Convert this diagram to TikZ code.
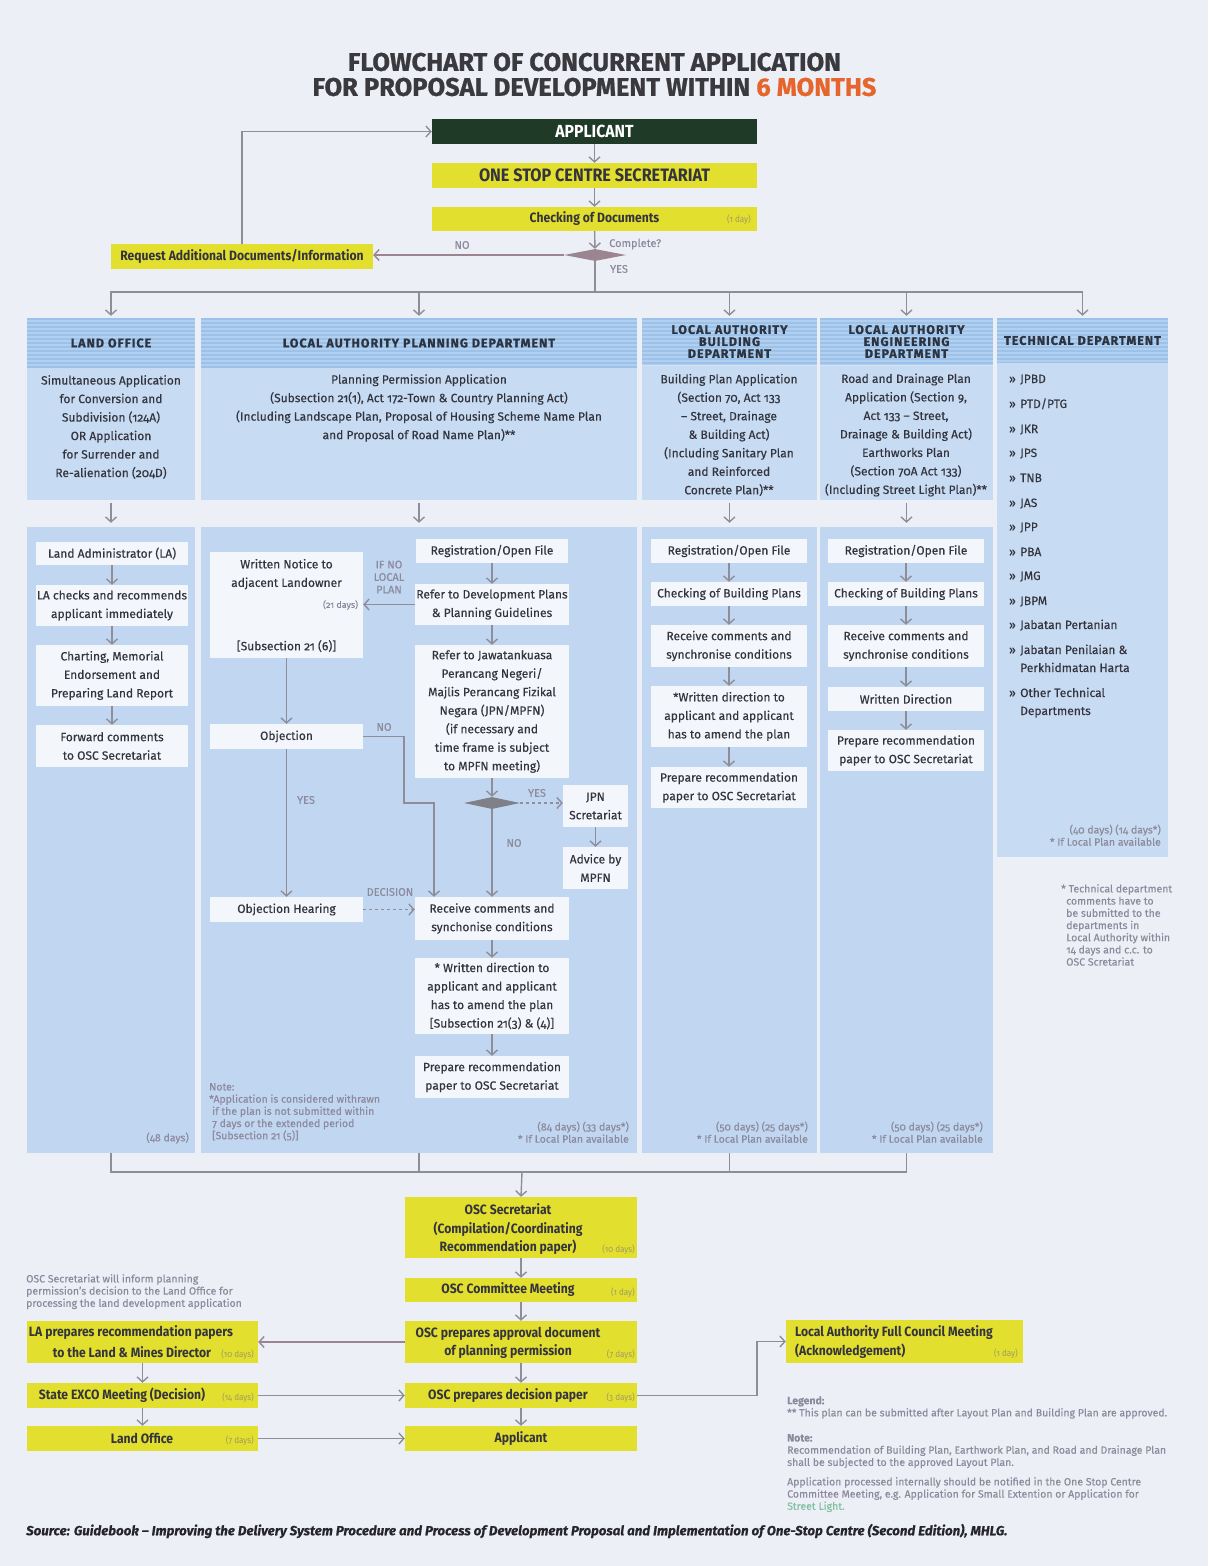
\documentclass[tikz,border=0pt]{standalone}
\usepackage{fontspec}
\setmainfont[Numbers=OldStyle,FakeBold=0.3]{Fira Sans}
\newfontfamily\condfont[FakeStretch=0.9,Numbers=OldStyle]{Fira Sans}
\newfontfamily\titlefont[FakeBold=0.8]{Fira Sans}
\newfontfamily\headfont[LetterSpace=8,FakeBold=0.8]{Fira Sans}
\usetikzlibrary{arrows.meta,shapes.geometric,positioning}

\definecolor{pagec}{HTML}{EDEFF7}
\definecolor{linegrey}{HTML}{8E8E98}
\definecolor{mauvec}{HTML}{9A8590}
\definecolor{diagrey}{HTML}{808088}
\definecolor{yellowc}{HTML}{E3DF2E}
\definecolor{greenc}{HTML}{1F3A27}
\definecolor{headc}{HTML}{9CC2EA}
\definecolor{bodyc}{HTML}{C7DCF2}
\definecolor{lowc}{HTML}{C1D7F1}
\definecolor{whitec}{HTML}{F3F6FB}
\definecolor{textc}{HTML}{34343E}
\definecolor{headtext}{HTML}{2C3442}
\definecolor{notec}{HTML}{8C8A9C}
\definecolor{daysc}{HTML}{9E9C62}
\definecolor{titlec}{HTML}{3A3A3E}
\definecolor{orangec}{HTML}{E5652C}
\definecolor{greenl}{HTML}{7FC0A0}
\definecolor{srcc}{HTML}{25252A}

\begin{document}
\begin{tikzpicture}[x=1pt, y=-1pt,
		arr/.style={draw=linegrey, line width=1.4pt, -{Straight Barb[length=5pt,width=11pt]}},
		lin/.style={draw=linegrey, line width=1.4pt},
		panel/.style={inner sep=0pt, fill=#1},
		hd/.style={inner sep=0pt, fill=headc, text=headtext, align=center, font=\headfont\bfseries\fontsize{12.5}{12}\selectfont,
			path picture={\foreach \k in {3,7,...,47} \draw[white, opacity=0.22, line width=1.2pt] ([yshift=-\k pt]path picture bounding box.north west) -- ([yshift=-\k pt]path picture bounding box.north east);}},
		body/.style={inner sep=0pt, text=textc, align=center, font=\fontsize{12}{18.5}\selectfont},
		wbox/.style={inner sep=0pt, fill=whitec, text=textc, align=center, font=\fontsize{12}{18.5}\selectfont},
		ybox/.style={inner sep=0pt, fill=yellowc, text=textc, align=center, font=\condfont\bfseries\fontsize{13.5}{18.5}\selectfont},
		ytxt/.style={inner sep=0pt, text=textc, align=center, font=\condfont\bfseries\fontsize{13.5}{18.5}\selectfont},
		note/.style={inner sep=0pt, text=notec, font=\fontsize{10.5}{12.2}\selectfont},
		days/.style={inner sep=0pt, text=daysc, font=\condfont\fontsize{9}{10}\selectfont},
		lbl/.style={inner sep=0pt, text=notec, font=\fontsize{11}{12.5}\selectfont},
		item/.style={inner sep=0pt, text=textc, font=\fontsize{12}{18}\selectfont}
	]
	\fill[pagec] (0,0) rectangle (1208,1566);
	\useasboundingbox (0,0) rectangle (1208,1566);

	\node[inner sep=0pt, text=titlec, font=\titlefont\bfseries\fontsize{25.5}{27}\selectfont] (title1) at (594.5,62) {FLOWCHART OF CONCURRENT APPLICATION};
	\node[inner sep=0pt, text=titlec, font=\titlefont\bfseries\fontsize{25.5}{27}\selectfont] (title2) at (594.5,87) {FOR PROPOSAL DEVELOPMENT WITHIN \textcolor{orangec}{6 MONTHS}};

	\node[inner sep=0pt, fill=greenc, text=white, minimum width=325pt, minimum height=25pt, font=\condfont\bfseries\fontsize{17.5}{19}\selectfont] (app) at (594.5,131.5) {APPLICANT};
	\node[ybox, minimum width=325pt, minimum height=25pt, font=\condfont\bfseries\fontsize{18}{20}\selectfont] (osc) at (594.5,175.5) {ONE STOP CENTRE SECRETARIAT};
	\node[ybox, minimum width=325pt, minimum height=24pt] (chk) at (594.5,219) {Checking of Documents};
	\node[days, anchor=east] (chkD) at (751,220) {(1 day)};
	\node[diamond, aspect=5, fill=mauvec, minimum width=62pt, minimum height=12pt, inner sep=0pt] (dia) at (595,255) {};
	\node[ybox, minimum width=262pt, minimum height=25pt] (req) at (242,256.5) {Request Additional Documents/Information};
	\node[lbl] (noA) at (462,245) {NO};
	\node[lbl, anchor=west] (cmpA) at (609,244) {Complete?};
	\node[lbl] (yesA) at (619,269) {YES};

	\draw[arr] (app) -- (osc);
	\draw[arr] (osc) -- (chk);
	\draw[arr] (chk) -- (dia);
	\draw[arr, draw=mauvec] (dia.west) -- (dia.west -| req.east);
	\draw[arr] (req.north) |- (app.west);

	% columns
	\node[panel=bodyc, minimum width=168pt, minimum height=182pt] (loTop) at (111,409) {};
	\node[hd, minimum width=168pt, minimum height=50pt] (loHd) at (111,343) {LAND OFFICE};
	\node[panel=lowc, minimum width=168pt, minimum height=626pt] (loLow) at (111,840) {};
	\node[panel=bodyc, minimum width=436pt, minimum height=182pt] (plTop) at (419,409) {};
	\node[hd, minimum width=436pt, minimum height=50pt] (plHd) at (419,343) {LOCAL AUTHORITY PLANNING DEPARTMENT};
	\node[panel=lowc, minimum width=436pt, minimum height=626pt] (plLow) at (419,840) {};
	\node[panel=bodyc, minimum width=175pt, minimum height=182pt] (bdTop) at (729.5,409) {};
	\node[hd, minimum width=175pt, minimum height=47pt] (bdHd) at (729.5,341.5) {LOCAL AUTHORITY\\BUILDING\\DEPARTMENT};
	\node[panel=lowc, minimum width=175pt, minimum height=626pt] (bdLow) at (729.5,840) {};
	\node[panel=bodyc, minimum width=173pt, minimum height=182pt] (enTop) at (906.5,409) {};
	\node[hd, minimum width=173pt, minimum height=47pt] (enHd) at (906.5,341.5) {LOCAL AUTHORITY\\ENGINEERING\\DEPARTMENT};
	\node[panel=lowc, minimum width=173pt, minimum height=626pt] (enLow) at (906.5,840) {};
	\node[panel=bodyc, minimum width=171pt, minimum height=539pt] (tdTop) at (1082.5,587.5) {};
	\node[hd, minimum width=171pt, minimum height=45pt] (tdHd) at (1082.5,340.5) {TECHNICAL DEPARTMENT};

	\coordinate (busT) at (595,292);
	\draw[lin] (dia.south) -- (busT);
	\draw[arr, shorten >=2pt] (busT) -| (loHd.north);
	\draw[arr, shorten >=2pt] (busT) -| (plHd.north);
	\draw[arr, shorten >=2pt] (busT) -| (bdHd.north);
	\draw[arr, shorten >=2pt] (busT) -| (enHd.north);
	\draw[arr, shorten >=2pt] (busT) -| (tdHd.north);

	\node[body] (loTxt) at (111,427) {Simultaneous Application\\for Conversion and\\Subdivision (124A)\\OR Application\\for Surrender and\\Re-alienation (204D)};
	\node[body] (plTxt) at (419,408) {Planning Permission Application\\(Subsection 21(1), Act 172-Town \& Country Planning Act)\\(Including Landscape Plan, Proposal of Housing Scheme Name Plan\\and Proposal of Road Name Plan)**};
	\node[body] (bdTxt) at (729,435) {Building Plan Application\\(Section 70, Act 133\\– Street, Drainage\\\& Building Act)\\(Including Sanitary Plan\\and Reinforced\\Concrete Plan)**};
	\node[body] (enTxt) at (906,435) {Road and Drainage Plan\\Application (Section 9,\\Act 133 – Street,\\Drainage \& Building Act)\\Earthworks Plan\\(Section 70A Act 133)\\(Including Street Light Plan)**};

	\draw[arr, shorten <=3pt, shorten >=4pt] (loTop.south) -- (loLow.north);
	\draw[arr, shorten <=3pt, shorten >=4pt] (plTop.south) -- (plLow.north);
	\draw[arr, shorten <=3pt, shorten >=4pt] (bdTop.south) -- (bdLow.north);
	\draw[arr, shorten <=3pt, shorten >=4pt] (enTop.south) -- (enLow.north);

	% land office
	\node[wbox, minimum width=152pt, minimum height=23pt] (loLa) at (112,553.5) {Land Administrator (LA)};
	\node[wbox, minimum width=152pt, minimum height=41pt] (loChk) at (112,605.5) {LA checks and recommends\\applicant immediately};
	\node[wbox, minimum width=152pt, minimum height=61pt] (loChart) at (112,675.5) {Charting, Memorial\\Endorsement and\\Preparing Land Report};
	\node[wbox, minimum width=152pt, minimum height=42pt] (loFwd) at (112,746) {Forward comments\\to OSC Secretariat};
	\node[note, anchor=east] (loDays) at (189,1138) {(48 days)};
	\draw[arr] (loLa) -- (loChk);
	\draw[arr] (loChk) -- (loChart);
	\draw[arr] (loChart) -- (loFwd);

	% planning
	\node[wbox, minimum width=152pt, minimum height=24pt] (plReg) at (492,551) {Registration/Open File};
	\node[wbox, minimum width=154pt, minimum height=41pt] (plRef) at (492,604.5) {Refer to Development Plans\\\& Planning Guidelines};
	\node[wbox, minimum width=154pt, minimum height=133pt] (plJpn) at (492,711.5) {Refer to Jawatankuasa\\Perancang Negeri/\\Majlis Perancang Fizikal\\Negara (JPN/MPFN)\\(if necessary and\\time frame is subject\\to MPFN meeting)};
	\node[diamond, aspect=4.5, fill=diagrey, minimum width=56pt, minimum height=12pt, inner sep=0pt] (plDia) at (492,803) {};
	\node[wbox, minimum width=65pt, minimum height=42pt] (plJs) at (595.5,806) {JPN\\Scretariat};
	\node[wbox, minimum width=65pt, minimum height=42pt] (plAdv) at (595.5,868) {Advice by\\MPFN};
	\node[wbox, minimum width=154pt, minimum height=43pt] (plRcv) at (492,918.5) {Receive comments and\\synchonise conditions};
	\node[wbox, minimum width=154pt, minimum height=76pt] (plWd) at (492,996) {* Written direction to\\applicant and applicant\\has to amend the plan\\{[}Subsection 21(3) \& (4){]}};
	\node[wbox, minimum width=154pt, minimum height=42pt] (plPrep) at (492,1077) {Prepare recommendation\\paper to OSC Secretariat};
	\node[wbox, minimum width=153pt, minimum height=106pt] (plNot) at (286.5,605) {};
	\node[body, below=7pt of plNot.north] (plNotT) {Written Notice to\\adjacent Landowner};
	\node[body, above=6pt of plNot.south] (plNotS) {{[}Subsection 21 (6){]}};
	\node[note, anchor=east, font=\fontsize{9}{10}\selectfont] (plNotD) at ([xshift=-5pt]plNot.east) {(21 days)};
	\node[wbox, minimum width=153pt, minimum height=25pt] (plObj) at (286.5,736.5) {Objection};
	\node[wbox, minimum width=153pt, minimum height=25pt] (plHear) at (286.5,909.5) {Objection Hearing};
	\node[lbl, align=center] (plIf) at (389,577) {IF NO\\LOCAL\\PLAN};
	\node[lbl] (plYes1) at (537,793) {YES};
	\node[lbl] (plNo1) at (514,843) {NO};
	\node[lbl] (plNo2) at (384,727) {NO};
	\node[lbl] (plYes2) at (306,800) {YES};
	\node[lbl] (plDec) at (390,892) {DECISION};
	\node[note, anchor=north west, align=left] (plNote) at (209,1083) {Note:\\*Application is considered withrawn\\\hspace*{3pt}if the plan is not submitted within\\\hspace*{3pt}7 days or the extended period\\\hspace*{3pt}{[}Subsection 21 (5){]}};
	\node[note, anchor=south east, align=right] (plDays) at (629,1143) {(84 days) (33 days*)\\* If Local Plan available};

	\draw[arr] (plReg) -- (plRef);
	\draw[arr] (plRef) -- (plJpn);
	\draw[arr] (plJpn) -- (plDia);
	\draw[arr, dashed] (plDia.east) -- (plDia.east -| plJs.west);
	\draw[arr] (plJs) -- (plAdv);
	\draw[arr] (plDia.south) -- (plDia.south |- plRcv.north);
	\draw[arr] (plRef.west) -- (plRef.west -| plNot.east);
	\draw[arr] (plNot) -- (plObj);
	\draw[arr] (plObj) -- (plHear);
	\coordinate (objA) at (404,803);
	\coordinate (objB) at (434,803);
	\draw[arr] (plObj.east) -| (objA) -- (objB) -- (objB |- plRcv.north);
	\draw[arr, dashed] (plHear.east) -- (plHear.east -| plRcv.west);
	\draw[arr] (plRcv) -- (plWd);
	\draw[arr] (plWd) -- (plPrep);

	% building
	\node[wbox, minimum width=156pt, minimum height=24pt] (bdReg) at (729,551) {Registration/Open File};
	\node[wbox, minimum width=156pt, minimum height=24pt] (bdChk) at (729,594) {Checking of Building Plans};
	\node[wbox, minimum width=156pt, minimum height=42pt] (bdRcv) at (729,646) {Receive comments and\\synchronise conditions};
	\node[wbox, minimum width=156pt, minimum height=61pt] (bdWd) at (729,716.5) {*Written direction to\\applicant and applicant\\has to amend the plan};
	\node[wbox, minimum width=156pt, minimum height=41pt] (bdPrep) at (729,787.5) {Prepare recommendation\\paper to OSC Secretariat};
	\node[note, anchor=south east, align=right] (bdDays) at (808,1143) {(50 days) (25 days*)\\* If Local Plan available};
	\draw[arr] (bdReg) -- (bdChk);
	\draw[arr] (bdChk) -- (bdRcv);
	\draw[arr] (bdRcv) -- (bdWd);
	\draw[arr] (bdWd) -- (bdPrep);

	% engineering
	\node[wbox, minimum width=156pt, minimum height=24pt] (enReg) at (906,551) {Registration/Open File};
	\node[wbox, minimum width=156pt, minimum height=24pt] (enChk) at (906,594) {Checking of Building Plans};
	\node[wbox, minimum width=156pt, minimum height=42pt] (enRcv) at (906,646) {Receive comments and\\synchronise conditions};
	\node[wbox, minimum width=156pt, minimum height=24pt] (enWd) at (906,699) {Written Direction};
	\node[wbox, minimum width=156pt, minimum height=41pt] (enPrep) at (906,750.5) {Prepare recommendation\\paper to OSC Secretariat};
	\node[note, anchor=south east, align=right] (enDays) at (983,1143) {(50 days) (25 days*)\\* If Local Plan available};
	\draw[arr] (enReg) -- (enChk);
	\draw[arr] (enChk) -- (enRcv);
	\draw[arr] (enRcv) -- (enWd);
	\draw[arr] (enWd) -- (enPrep);

	% technical
	\foreach \y/\t in {378/JPBD, 403/{PTD/PTG}, 428/JKR, 452/JPS, 477/TNB, 502/JAS, 526/JPP, 551/PBA, 575/JMG, 600/JBPM, 624/Jabatan Pertanian, 649/{Jabatan Penilaian \&}, 692/Other Technical} {
		\node[item, anchor=base east] (tb\y) at (1016,\y+5) {»};
		\node[item, anchor=base west] (td\y) at (1020,\y+5) {\t};
	}
	\node[item, anchor=base west] (tdC1) at (1020,672) {Perkhidmatan Harta};
	\node[item, anchor=base west] (tdC2) at (1020,715) {Departments};
	\node[note, anchor=south east, align=right] (tdDays) at (1161,846) {(40 days) (14 days*)\\* If Local Plan available};
	\node[note, anchor=north west, align=left] (tdNote) at (1061,884) {* Technical department\\\hspace*{5pt}comments have to\\\hspace*{5pt}be submitted to the\\\hspace*{5pt}departments in\\\hspace*{5pt}Local Authority within\\\hspace*{5pt}14 days and c.c. to\\\hspace*{5pt}OSC Scretariat};

	% lower flow
	\coordinate (busB) at (522,1172);
	\draw[lin] (loLow.south) |- (busB) -| (enLow.south);
	\draw[lin] (plLow.south) -- (plLow.south |- busB);
	\draw[lin] (bdLow.south) -- (bdLow.south |- busB);

	\node[ybox, minimum width=232pt, minimum height=61pt] (oscS) at (521,1227.5) {};
	\node[ytxt] (oscSt) at (508,1229.5) {OSC Secretariat\\(Compilation/Coordinating\\Recommendation paper)};
	\node[days, anchor=east] (oscSd) at (635,1250) {(10 days)};
	\node[ybox, minimum width=232pt, minimum height=24pt] (oscC) at (521,1290) {};
	\node[ytxt] (oscCt) at (508,1290) {OSC Committee Meeting};
	\node[days, anchor=east] (oscCd) at (635,1293) {(1 day)};
	\node[ybox, minimum width=232pt, minimum height=42pt] (oscA) at (521,1342) {};
	\node[ytxt] (oscAt) at (508,1343) {OSC prepares approval document\\of planning permission};
	\node[days, anchor=east] (oscAd) at (635,1355) {(7 days)};
	\node[ybox, minimum width=232pt, minimum height=25pt] (oscD) at (521,1395.5) {};
	\node[ytxt] (oscDt) at (508,1395.5) {OSC prepares decision paper};
	\node[days, anchor=east] (oscDd) at (635,1398) {(3 days)};
	\node[ybox, minimum width=232pt, minimum height=25pt] (oscApp) at (521,1438.5) {Applicant};

	\node[ybox, minimum width=231pt, minimum height=42pt] (laP) at (142.5,1342) {};
	\node[ytxt] (laPt1) at (131,1333) {LA prepares recommendation papers};
	\node[ytxt] (laPt2) at (132,1352) {to the Land \& Mines Director};
	\node[days, anchor=east] (laPd) at (254,1355) {(10 days)};
	\node[ybox, minimum width=231pt, minimum height=25pt] (exco) at (142.5,1395.5) {};
	\node[ytxt] (excoT) at (122,1395.5) {State EXCO Meeting (Decision)};
	\node[days, anchor=east] (excoD) at (254,1398) {(14 days)};
	\node[ybox, minimum width=231pt, minimum height=25pt] (lof) at (142.5,1438.5) {};
	\node[ytxt] (lofT) at (142,1438.5) {Land Office};
	\node[days, anchor=east] (lofD) at (254,1441) {(7 days)};
	\node[note, anchor=north west, align=left] (lfNote) at (26,1274) {OSC Secretariat will inform planning\\permission's decision to the Land Office for\\processing the land development application};

	\node[ybox, minimum width=237pt, minimum height=43pt] (lac) at (904.5,1341.5) {};
	\node[ytxt, anchor=west, align=left] (lacT) at (795,1342) {Local Authority Full Council Meeting\\(Acknowledgement)};
	\node[days, anchor=east] (lacD) at (1018,1354) {(1 day)};

	\draw[arr] (busB) -- (oscS.north);
	\draw[arr] (oscS) -- (oscC);
	\draw[arr] (oscC) -- (oscA);
	\draw[arr] (oscA) -- (oscD);
	\draw[arr] (oscD) -- (oscApp);
	\draw[arr, draw=mauvec] (oscA.west) -- (laP.east);
	\draw[arr] (laP) -- (exco);
	\draw[arr] (exco) -- (lof);
	\draw[arr] (exco.east) -- (oscD.west);
	\draw[arr] (lof.east) -- (oscApp.west);
	\coordinate (lacK) at (757,1341.5);
	\draw[arr] (oscD.east) -| (lacK) -- (lac.west);

	\node[note, anchor=north west, align=left] (legend) at (787,1396) {\textbf{Legend:}\\** This plan can be submitted after Layout Plan and Building Plan are approved.};
	\node[note, anchor=north west, align=left] (noteB) at (787,1434) {\textbf{Note:}\\Recommendation of Building Plan, Earthwork Plan, and Road and Drainage Plan\\shall be subjected to the approved Layout Plan.};
	\node[note, anchor=north west, align=left] (noteC) at (787,1477) {Application processed internally should be notified in the One Stop Centre\\Committee Meeting, e.g. Application for Small Extention or Application for\\\textcolor{greenl}{Street Light.}};
	\node[inner sep=0pt, anchor=west, text=srcc, font=\bfseries\itshape\fontsize{13.3}{15}\selectfont] (src) at (26,1531) {Source: Guidebook – Improving the Delivery System Procedure and Process of Development Proposal and Implementation of One-Stop Centre (Second Edition), MHLG.};
\end{tikzpicture}
\end{document}
